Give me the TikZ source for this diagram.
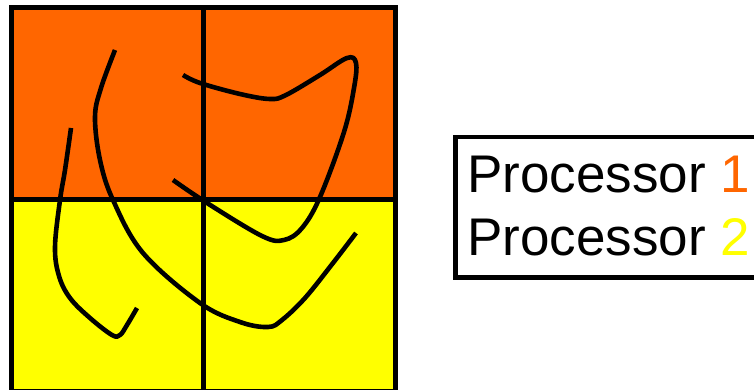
\documentclass[tikz,border=0pt]{standalone}
\usepackage{fontspec}
\setmainfont{Liberation Sans}
\definecolor{porange}{HTML}{FF6600}
\definecolor{pyellow}{HTML}{FFFF00}
\begin{document}
\begin{tikzpicture}[x=1pt,y=-1pt,
  cellbox/.style={draw=black,line width=5pt,minimum width=192pt,minimum height=192pt,inner sep=0pt,outer sep=0pt},
  curve/.style={draw=black,line width=4.6pt,line join=round},
  lbl/.style={anchor=base west,inner sep=0pt,font=\fontsize{53}{60}\selectfont}]
\useasboundingbox (0,0) rectangle (754,390);
\clip (0,0) rectangle (754,390);
\node[cellbox,fill=porange] (c11) at (107.5,103.5) {};
\node[cellbox,fill=porange] (c12) at (299.5,103.5) {};
\node[cellbox,fill=pyellow] (c21) at (107.5,295.5) {};
\node[cellbox,fill=pyellow] (c22) at (299.5,295.5) {};
\draw[curve] plot[smooth,tension=0.6] coordinates {(115,50) (101,88) (95,117) (100,160) (113,200) (143,253) (200,303) (240,322) (268,327) (282,320) (305,298) (333,263) (356,233)};
\draw[curve] plot[smooth,tension=0.6] coordinates {(71,128) (65,170) (60,200) (55,247) (59,276) (70,298) (90,318) (112,335) (120,335) (127,325) (137,308)};
\draw[curve] plot[smooth,tension=0.6] coordinates {(183,75) (200,83) (240,94) (270,99) (286,95) (320,75) (347,58) (356,63) (354,88) (344,132) (320,197) (302,228) (284,240) (262,236) (207,203) (173,180)};
\node[draw=black,line width=4.5pt,minimum width=330pt,minimum height=140pt,anchor=north west,inner sep=0pt] (leg) at (453,135) {};
\node[lbl] (l1) at (467,192) {Processor \textcolor{porange}{1}};
\node[lbl] (l2) at (467,255) {Processor \textcolor{pyellow}{2}};
\end{tikzpicture}
\end{document}
